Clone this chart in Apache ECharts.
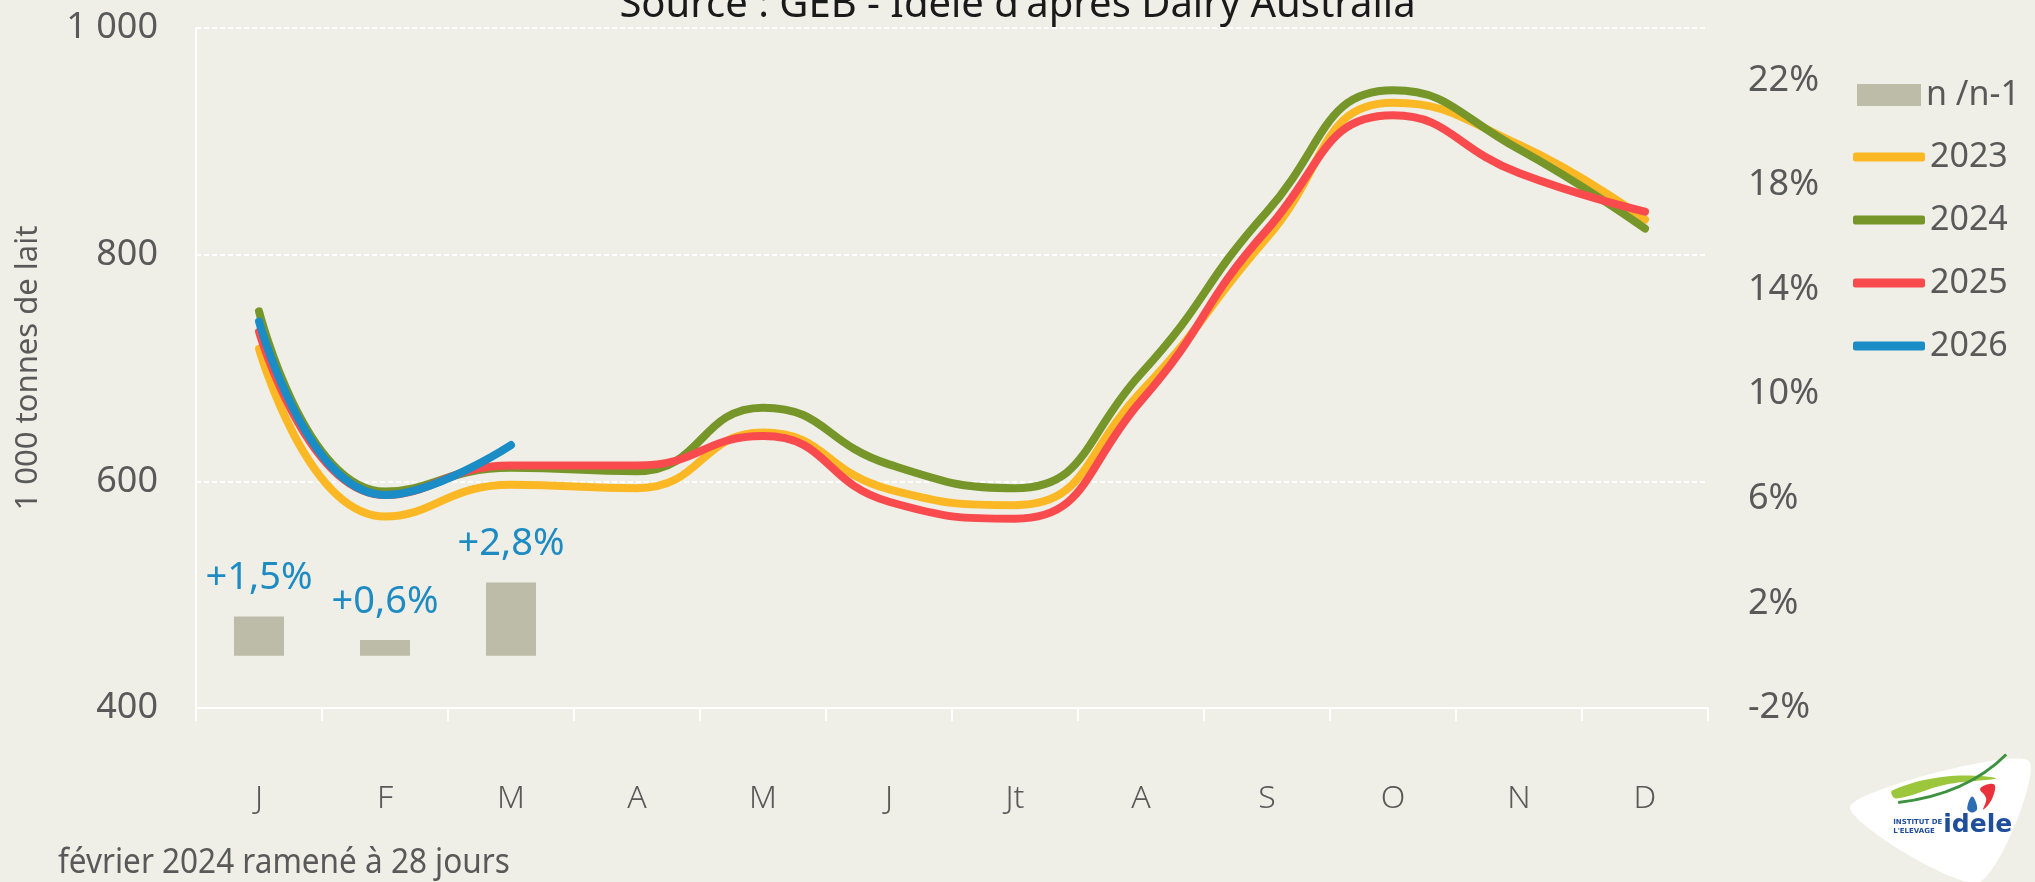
<!DOCTYPE html>
<html>
<head>
<meta charset="utf-8">
<script src="https://cdn.jsdelivr.net/npm/echarts@6/dist/echarts.min.js"></script>
<style>
  html, body { margin: 0; padding: 0; background: #efefe7; }
  #chart { width: 2035px; height: 882px; }
</style>
</head>
<body>
<div id="chart"></div>
<script>
// mois
const months = ['J', 'F', 'M', 'A', 'M', 'J', 'Jt', 'A', 'S', 'O', 'N', 'D']
// 1 000 tonnes de lait
const lait2023 = [717, 569, 597, 594, 643, 593, 579, 679, 815, 934, 897, 831]
const lait2024 = [750, 591, 612, 609, 665, 615, 594, 695, 838, 945, 893, 823]
const lait2025 = [732, 588, 614, 614, 640, 582, 567, 671, 822, 923, 872, 838]
const lait2026 = [741, 588, 632]
// evolution n/n-1 (%)
const evol = [1.5, 0.6, 2.8]
const leftTicks = [400, 600, 800, 1000]
const rightTicks = [-2, 2, 6, 10, 14, 18, 22]

const txt = '#595959'
const font = 'Noto Sans'

const chart = echarts.init(document.getElementById('chart'))

const lineSerie = (name, data, color) => ({
  name: name,
  type: 'line',
  data: data,
  smooth: 0.5,
  symbol: 'none',
  yAxisIndex: 0,
  itemStyle: { color: color },
  lineStyle: { color: color, width: 8, cap: 'round' }
})

const option = {
  backgroundColor: '#efefe7',
  animation: false,
  textStyle: { fontFamily: font },
  title: {
    text: "Source : GEB - Idele d'après Dairy Australia",
    left: 'center',
    top: -22,
    textStyle: { fontFamily: font, fontSize: 40, fontWeight: 'normal', color: '#1a1a1a', lineHeight: 46 }
  },
  legend: [
    {
      data: ['n /n-1'],
      left: 1852,
      top: 70,
      icon: 'rect',
      itemWidth: 64,
      itemHeight: 22,
      textStyle: { fontFamily: font, fontSize: 34, color: txt, lineHeight: 40 }
    },
    {
      data: ['2023', '2024', '2025', '2026'],
      orient: 'vertical',
      left: 1848,
      top: 132,
      icon: 'roundRect',
      itemWidth: 72,
      itemHeight: 9,
      itemGap: 23,
      textStyle: { fontFamily: font, fontSize: 34, color: txt, lineHeight: 40 }
    }
  ],
  grid: { left: 196, right: 327, top: 28, bottom: 174 },
  xAxis: {
    type: 'category',
    data: months,
    boundaryGap: true,
    axisLine: { onZero: false, lineStyle: { color: '#ffffff', width: 2 } },
    axisTick: { show: true, length: 13, lineStyle: { color: '#ffffff', width: 2 } },
    axisLabel: { margin: 75, fontFamily: font, fontSize: 32, color: txt, fontWeight: 300 }
  },
  yAxis: [
    {
      type: 'value',
      min: leftTicks[0],
      max: leftTicks[leftTicks.length - 1],
      interval: 200,
      name: '1 000 tonnes de lait',
      nameLocation: 'middle',
      nameGap: 152,
      nameTextStyle: { fontFamily: font, fontSize: 31, color: txt },
      axisLine: { show: true, lineStyle: { color: '#ffffff', width: 2 } },
      axisTick: { show: false },
      axisLabel: {
        margin: 38,
        fontFamily: font,
        fontSize: 36,
        color: txt,
        formatter: v => String(v).replace(/\B(?=(\d{3})+(?!\d))/g, ' ')
      },
      splitLine: { show: true, lineStyle: { color: '#ffffff', width: 2, type: [5, 3] } }
    },
    {
      type: 'value',
      min: -2,
      max: 24,
      position: 'right',
      axisLine: { show: false },
      axisTick: { show: false },
      splitLine: { show: false },
      axisLabel: {
        customValues: rightTicks,
        margin: 40,
        fontFamily: font,
        fontSize: 36,
        color: txt,
        formatter: v => v + '%'
      }
    }
  ],
  series: [
    {
      name: 'n /n-1',
      type: 'bar',
      yAxisIndex: 1,
      data: evol,
      barWidth: 50,
      itemStyle: { color: '#bdbca8' },
      label: {
        show: true,
        position: 'top',
        distance: 19,
        fontFamily: font,
        fontSize: 38,
        color: '#1e8bc3',
        formatter: p => '+' + p.value.toFixed(1).replace('.', ',') + '%'
      }
    },
    lineSerie('2023', lait2023, '#fbb824'),
    lineSerie('2024', lait2024, '#76962a'),
    lineSerie('2025', lait2025, '#f94a4e'),
    lineSerie('2026', lait2026, '#1a8cc6')
  ],
  graphic: [
    {
      type: 'text',
      left: 58,
      top: 846,
      scaleX: 0.9,
      style: { text: 'février 2024 ramené à 28 jours', fontFamily: font, fontSize: 35, fill: txt }
    },
    {
      type: 'group',
      left: 1850,
      top: 752,
      children: [
        {
          type: 'polygon',
          shape: { points: [[4, 54], [132, 130], [182, 8]], smooth: 0.25 },
          style: { fill: '#ffffff' }
        },
        {
          type: 'polygon',
          shape: { points: [[46, 38], [100, 24], [150, 26], [100, 32], [50, 46]], smooth: 0.4 },
          style: { fill: '#9cc63b' }
        },
        {
          type: 'bezierCurve',
          shape: { x1: 52, y1: 50, x2: 160, y2: 2, cpx1: 120, cpy1: 42 },
          style: { fill: null, stroke: '#3d9140', lineWidth: 3 }
        },
        {
          type: 'polygon',
          shape: { points: [[134, 36], [148, 32], [146, 46], [137, 57], [140, 46]], smooth: 0.4 },
          style: { fill: '#e8313a' }
        },
        {
          type: 'polygon',
          shape: { points: [[126, 44], [121, 56], [126, 60], [131, 56]], smooth: 0.4 },
          style: { fill: '#2b6cb3' }
        },
        {
          type: 'text',
          x: 47,
          y: 65,
          style: { text: 'INSTITUT DE\nL\'ELEVAGE', fontFamily: 'DejaVu Sans', fontSize: 7, fontWeight: 'bold', fill: '#1f4e9a', lineHeight: 9 }
        },
        {
          type: 'text',
          x: 97,
          y: 60,
          style: { text: 'idele', fontFamily: 'DejaVu Sans', fontSize: 25, fontWeight: 'bold', fill: '#1f4e9a' }
        }
      ]
    }
  ]
}

chart.setOption(option)
</script>
</body>
</html>
